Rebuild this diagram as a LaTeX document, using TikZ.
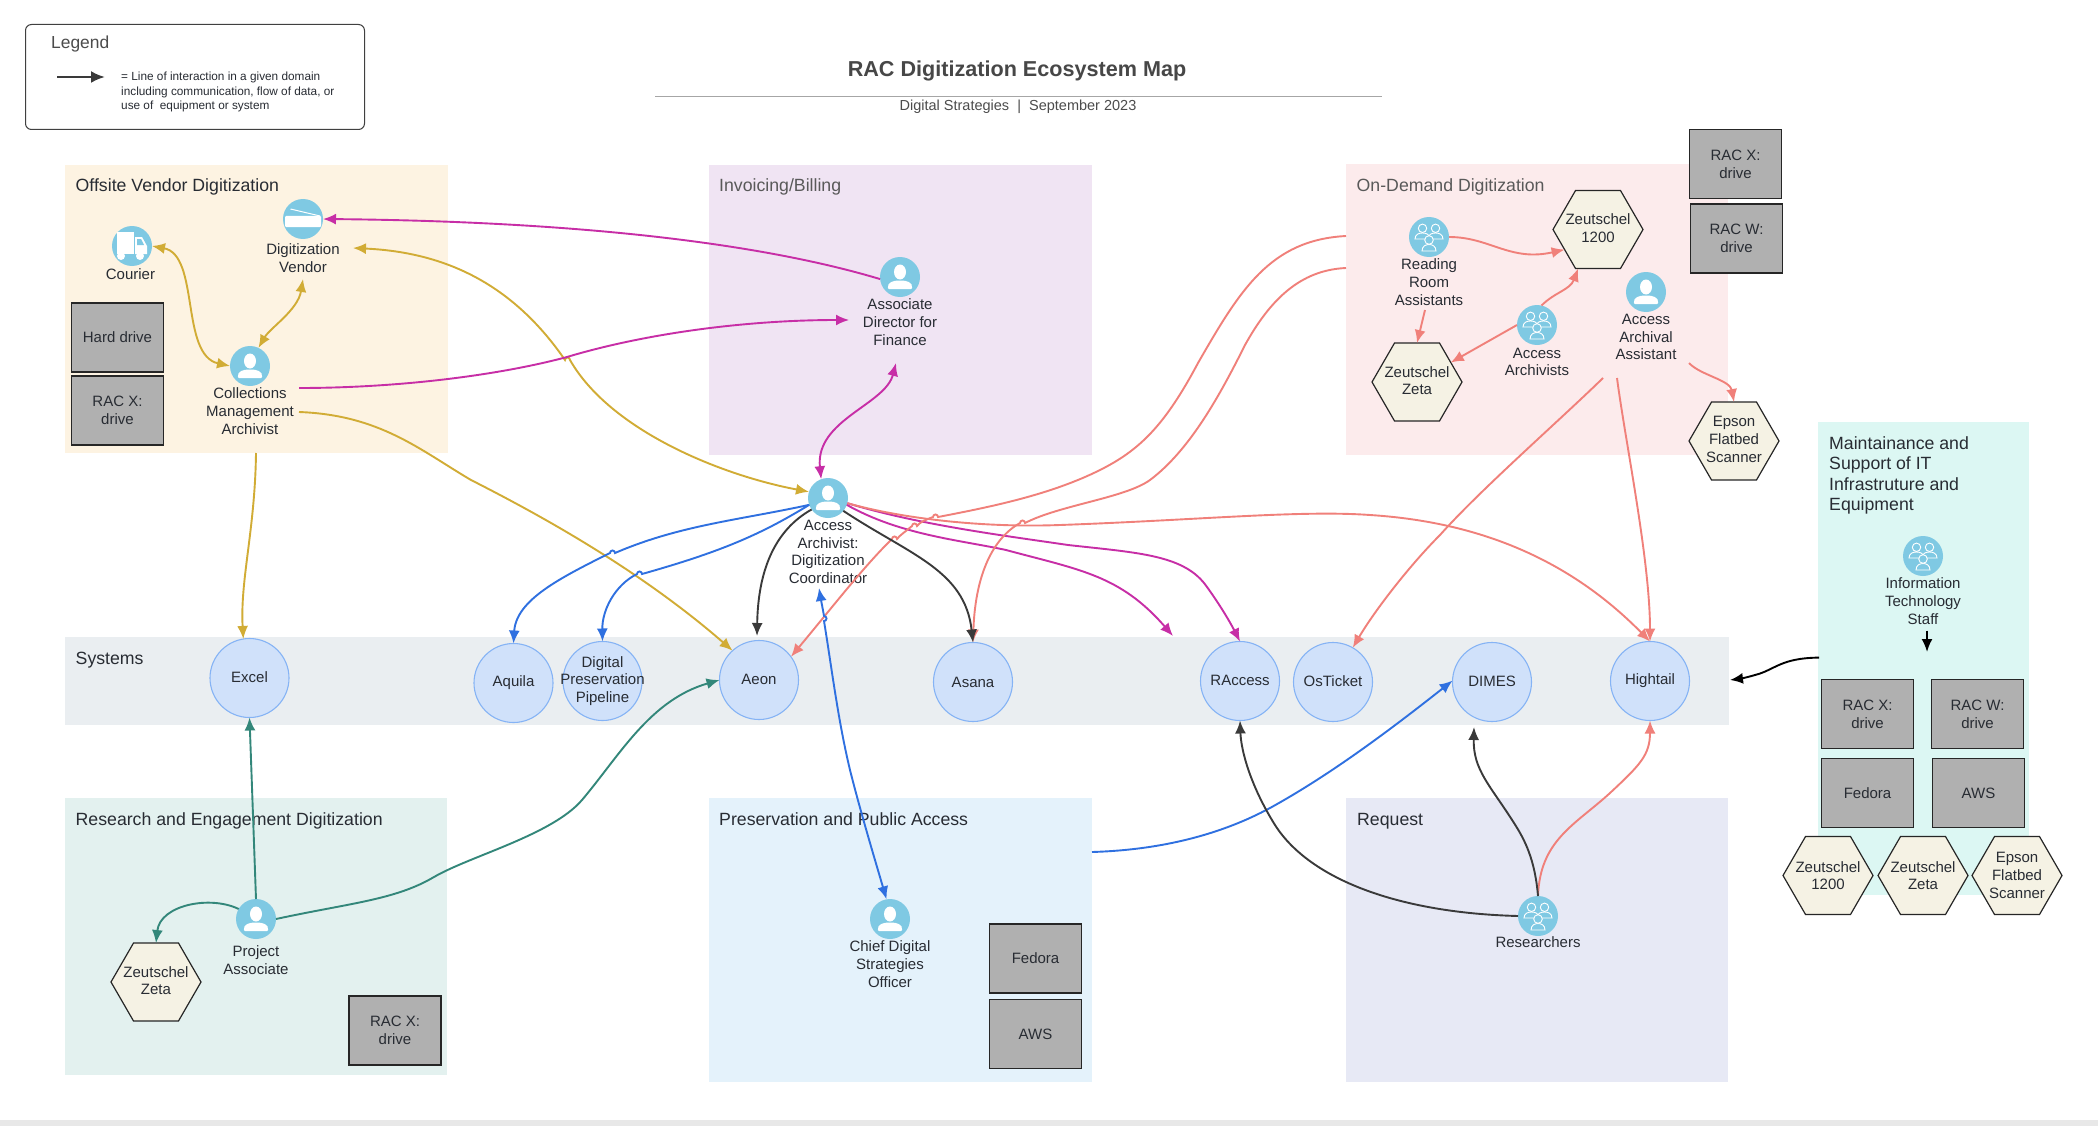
\documentclass[tikz,border=0pt]{standalone}
\usepackage{fontspec}
\setmainfont{Liberation Sans}
\usetikzlibrary{arrows.meta,shapes.geometric}
\definecolor{icon}{HTML}{7FC9E3}
\definecolor{cgold}{HTML}{D1AC35}
\definecolor{cmag}{HTML}{C72EA6}
\definecolor{csal}{HTML}{F0807A}
\definecolor{cblue}{HTML}{2F70E0}
\definecolor{cdark}{HTML}{3A3A3A}
\definecolor{cgreen}{HTML}{33877A}
\definecolor{inkc}{HTML}{282C33}
\tikzset{
  >={Latex[length=13pt,width=11pt]},
  lab/.style={inner sep=0pt,align=center,text=inkc,font=\fontsize{15}{17.7}\selectfont},
  uplab/.style={lab,yshift=1.5pt},
  grpblock/.style={inner sep=0pt,anchor=west,align=left,text=inkc,font=\fontsize{17.7}{20.6}\selectfont},
  grptitle/.style={grpblock,text height=13pt,text depth=4pt},
  grp/.style={draw=none,anchor=north west,inner sep=0pt,outer sep=0pt},
  iconc/.style={circle,fill=icon,minimum size=40pt,inner sep=0pt,outer sep=0pt},
  syst/.style={circle,fill=sysfill,draw=sysline,line width=1.1pt,minimum size=79pt,inner sep=0pt,outer sep=0pt,text=inkc,align=center,font=\fontsize{15}{17.7}\selectfont},
  drive/.style={rectangle,fill=black!31,draw=black!85,line width=1.2pt,minimum width=92pt,minimum height=69pt,inner sep=0pt,outer sep=0pt,text=inkc,align=center,font=\fontsize{15}{17.7}\selectfont},
  hexa/.style={regular polygon,regular polygon sides=6,minimum size=90pt,inner sep=0pt,outer sep=0pt,fill=hexfill,draw=black!85,line width=1.2pt},
  conn/.style={line width=1.9pt,->},
  both/.style={line width=1.9pt,<->},
  personglyph/.pic={
    \fill[white] (0,-5) ellipse [x radius=6,y radius=7.5];
    \fill[white,rounded corners=1pt] (-12,12) .. controls (-13,5) and (-6,3.5) .. (0,3.5) .. controls (6,3.5) and (13,5) .. (12,12) -- cycle;
  },
  teamglyph/.pic={
    \begin{scope}[draw=white,line width=0.9pt]
      \draw (-6.5,-8.7) circle [radius=4.2];
      \draw (6.5,-8.7) circle [radius=4.2];
      \draw (-14,2) .. controls (-14,-3) and (-9.5,-4) .. (-6.5,-4) .. controls (-3.5,-4) and (1,-3) .. (1,2) -- cycle;
      \draw (-1,2) .. controls (-1,-3) and (3.5,-4) .. (6.5,-4) .. controls (9.5,-4) and (14,-3) .. (14,2) -- cycle;
      \filldraw[fill=icon] (-7,14) .. controls (-7,9) and (-3,7.5) .. (0,7.5) .. controls (3,7.5) and (7,9) .. (7,14) -- cycle;
      \filldraw[fill=icon] (0,3) circle [radius=4.3];
    \end{scope}
  },
  truckglyph/.pic={
    \fill[white] (-15,-14) rectangle (2,8);
    \fill[white] (3,-9) -- (10,-9) -- (15,0) -- (15,8) -- (3,8) -- cycle;
    \fill[icon] (5,-7) -- (9,-7) -- (12,-1) -- (5,-1) -- cycle;
    \fill[white] (-11,10) circle [radius=4];
    \fill[white] (8,10) circle [radius=4];
  },
  scannerglyph/.pic={
    \fill[white,rounded corners=1pt] (-18,-3) -- (18,-3) -- (18,8) -- (-18,8) -- cycle;
    \draw[white,line width=1pt] (-12.5,-10) -- (17,-3);
  }
}
\definecolor{sysfill}{HTML}{D0E1FA}
\definecolor{sysline}{HTML}{85B3F5}
\definecolor{hexfill}{HTML}{F5F2E4}
\newcommand\personnode[3]{\node[iconc] (#1) at (#2,#3) {}; \pic at (#1) {personglyph};}
\newcommand\teamnode[3]{\node[iconc] (#1) at (#2,#3) {}; \pic at (#1) {teamglyph};}
\begin{document}
\begin{tikzpicture}[x=1pt,y=-1pt]
\useasboundingbox (0,0) rectangle (2098,1126);
\fill[white] (0,0) rectangle (2098,1126);
\fill[black!9] (0,1120) rectangle (2098,1126);

% groups
\node[grp,fill={rgb,255:red,253;green,243;blue,226},minimum width=383pt,minimum height=288pt] (gOff) at (65,165) {};
\node[grp,fill={rgb,255:red,240;green,228;blue,243},minimum width=383pt,minimum height=290pt] (gInv) at (709,165) {};
\node[grp,fill={rgb,255:red,252;green,235;blue,236},minimum width=382pt,minimum height=291pt] (gDem) at (1346,164) {};
\node[grp,fill={rgb,255:red,234;green,238;blue,241},minimum width=1664pt,minimum height=88pt] (gSys) at (65,637) {};
\node[grp,fill={rgb,255:red,227;green,241;blue,239},minimum width=382pt,minimum height=277pt] (gRes) at (65,798) {};
\node[grp,fill={rgb,255:red,228;green,242;blue,251},minimum width=383pt,minimum height=284pt] (gPre) at (709,798) {};
\node[grp,fill={rgb,255:red,231;green,233;blue,245},minimum width=382pt,minimum height=284pt] (gReq) at (1346,798) {};
\node[grp,fill={rgb,255:red,220;green,247;blue,243},minimum width=211pt,minimum height=473pt] (gMnt) at (1818,422) {};

\node[grptitle] (tOff) at (75.5,187) {Offsite Vendor Digitization};
\node[grptitle,text=black!65] (tInv) at (719,187) {Invoicing/Billing};
\node[grptitle,text=black!65] (tDem) at (1356.5,187) {On-Demand Digitization};
\node[grptitle] (tSys) at (75.5,660) {Systems};
\node[grptitle] (tRes) at (75.5,820.5) {Research and Engagement Digitization};
\node[grptitle] (tPre) at (719,820.5) {Preservation and Public Access};
\node[grptitle] (tReq) at (1357,820.5) {Request};
\node[grpblock] (tMnt) at (1829,475.5) {Maintainance and\\Support of IT\\Infrastruture and\\Equipment};

% legend and title
\node[draw=black!75,line width=1pt,rounded corners=6pt,minimum width=339pt,minimum height=105pt,anchor=north west,inner sep=0pt] (legendbox) at (25,24) {};
\node[lab,anchor=west,font=\fontsize{17.4}{20}\selectfont,text=black!70] (legendtitle) at (51,44.5) {Legend};
\coordinate (legA) at (57,77);
\coordinate (legB) at (105,77);
\node[lab,anchor=west,align=left,font=\fontsize{11.8}{14.3}\selectfont] (legendtext) at (121,92) {= Line of interaction in a given domain\\including communication, flow of data, or\\use of\ \ equipment or system};
\node[inner sep=0pt,text=black!72,font=\bfseries\fontsize{21.6}{24}\selectfont] (maintitle) at (1017,71) {RAC Digitization Ecosystem Map};
\coordinate (ruleA) at (655,97);
\coordinate (ruleB) at (1382,97);
\node[inner sep=0pt,text=black!70,font=\fontsize{14.5}{17}\selectfont] (subtitle) at (1018,107) {Digital Strategies\ \ |\ \ September 2023};
\draw[black!35,line width=1pt] (ruleA) -- (ruleB);
\draw[cdark,line width=2.6pt,-{Latex[length=14pt,width=12pt]}] (legA) -- (legB);

% people
\node[iconc] (pCourier) at (132,246) {}; \pic at (pCourier) {truckglyph};
\node[iconc] (pVendor) at (303,219) {}; \pic at (pVendor) {scannerglyph};
\personnode{pColl}{250}{366}
\personnode{pAssoc}{900}{277}
\personnode{pAA}{828}{498}
\teamnode{pRead}{1429}{237}
\teamnode{pArchs}{1537}{325}
\personnode{pArch}{1646}{292}
\teamnode{pIT}{1923}{556}
\personnode{pProj}{256}{919}
\personnode{pCDSO}{890}{919}
\teamnode{pRes}{1538}{916}

\node[lab] (lCourier) at (130.5,274) {Courier};
\node[lab] (lVendor) at (303,258) {Digitization\\Vendor};
\node[lab] (lColl) at (250,411) {Collections\\Management\\Archivist};
\node[lab] (lAssoc) at (900,322) {Associate\\Director for\\Finance};
\node[lab] (lAA) at (828,552) {Access\\Archivist:\\Digitization\\Coordinator};
\node[lab] (lRead) at (1429,282) {Reading\\Room\\Assistants};
\node[lab] (lArchs) at (1537,362) {Access\\Archivists};
\node[lab] (lArch) at (1646,337) {Access\\Archival\\Assistant};
\node[lab] (lIT) at (1923,601) {Information\\Technology\\Staff};
\node[lab] (lProj) at (256,960) {Project\\Associate};
\node[lab] (lCDSO) at (890,964) {Chief Digital\\Strategies\\Officer};
\node[lab] (lRes) at (1538,942) {Researchers};

% systems
\node[syst] (sExcel) at (249.5,678) {\raisebox{2pt}{Excel}};
\node[syst] (sAquila) at (513.5,683) {Aquila};
\node[syst,label={[lab]center:Digital\\Preservation\\Pipeline}] (sDPP) at (602.5,681) {};
\node[syst] (sAeon) at (759,680) {\raisebox{2pt}{Aeon}};
\node[syst] (sAsana) at (973,682) {Asana};
\node[syst] (sRAccess) at (1240,681) {\raisebox{2pt}{RAccess}};
\node[syst] (sOsTicket) at (1333,682) {\raisebox{1pt}{OsTicket}};
\node[syst] (sDIMES) at (1492,682) {\raisebox{1pt}{DIMES}};
\node[syst] (sHightail) at (1650,681) {\raisebox{2pt}{Hightail}};

% drives
\node[drive] (dHard) at (117.5,337.5) {Hard drive};
\node[drive] (dOffX) at (117.5,410.5) {RAC X:\\drive};
\node[drive] (dDemX) at (1735.5,164) {RAC X:\\drive};
\node[drive] (dDemW) at (1736.5,238.5) {RAC W:\\drive};
\node[drive] (dITX) at (1867.5,714) {RAC X:\\drive};
\node[drive] (dITW) at (1977.5,714) {RAC W:\\drive};
\node[drive] (dITF) at (1867.5,793) {Fedora};
\node[drive] (dITA) at (1978.5,793) {AWS};
\node[drive] (dResX) at (395,1030.5) {RAC X:\\drive};
\node[drive] (dPreF) at (1035.5,958.5) {Fedora};
\node[drive] (dPreA) at (1035.5,1034) {AWS};

% hexagons
\node[hexa,label={[uplab]center:Zeutschel\\1200}] (hZ1) at (1598,229.5) {};
\node[hexa,label={[uplab]center:Zeutschel\\Zeta}] (hZeta1) at (1417,382) {};
\node[hexa,label={[uplab]center:Epson\\Flatbed\\Scanner}] (hEp1) at (1734,441) {};
\node[hexa,label={[lab]center:Zeutschel\\1200}] (hZ2) at (1828,875.5) {};
\node[hexa,label={[lab]center:Zeutschel\\Zeta}] (hZeta2) at (1923,875.5) {};
\node[hexa,label={[lab]center:Epson\\Flatbed\\Scanner}] (hEp2) at (2017,875.5) {};
\node[hexa,label={[uplab]center:Zeutschel\\Zeta}] (hZeta3) at (156,982) {};

% free ends
\coordinate (gVendorIn) at (303,279);
\coordinate (gVendorSide) at (353,248);
\coordinate (gCollOut) at (299,412);
\coordinate (gOffOut) at (256,453);
\coordinate (mCollOut) at (299,388);
\coordinate (mAssocIn) at (849,320);
\coordinate (mAssocLow) at (896,363);
\coordinate (mEnd) at (1173,636);
\coordinate (sDemA) at (1346,236);
\coordinate (sDemB) at (1346,268);
\coordinate (sArchA) at (1603,378);
\coordinate (sArchB) at (1617,378);
\coordinate (sReadOut) at (1425,310);
\coordinate (sArchC) at (1689,363);
\coordinate (bAAlow) at (819,588);
\coordinate (bPreOut) at (1092,852);
\coordinate (dAeonIn) at (757,636);
\coordinate (dDimesIn) at (1474,727);
\coordinate (kITA) at (1927,630.5);
\coordinate (kITB) at (1927,652);
\coordinate (kMntOut) at (1819,657.6);
\coordinate (kSysIn) at (1730,680);

% gold
\draw[both,cgold] (pCourier.east) .. controls (200,255) and (180,355) .. (pColl.west);
\draw[both,cgold] (gVendorIn) .. controls (298,310) and (270,328) .. (pColl.65);
\draw[both,cgold] (gVendorSide) .. controls (440,252) and (510,280) .. (565,360) arc[start angle=180,end angle=360,radius=2.5] .. controls (610,430) and (720,475) .. (pAA.162);
\draw[conn,cgold] (gCollOut) .. controls (380,415) and (420,450) .. (471,480) .. controls (540,515) and (640,570) .. (sAeon.132);
\draw[conn,cgold] (gOffOut) .. controls (255,530) and (240,580) .. (sExcel.99);

% magenta
\draw[conn,cmag] (pAssoc.186) .. controls (800,255) and (640,222) .. (pVendor.east);
\draw[conn,cmag] (mCollOut) .. controls (400,388) and (500,375) .. (567,357) .. controls (640,335) and (740,320) .. (mAssocIn);
\draw[both,cmag] (mAssocLow) .. controls (885,405) and (815,420) .. (pAA.110);
\draw[conn,cmag] (pAA.-15) .. controls (920,525) and (1000,535) .. (1068,545) .. controls (1140,553) and (1185,555) .. (1207,587) .. controls (1220,605) and (1230,622) .. (sRAccess.north);
\draw[conn,cmag] (pAA.-20) .. controls (900,535) and (960,540) .. (1006,550) .. controls (1080,570) and (1120,575) .. (mEnd);

% salmon
\draw[conn,csal] (sDemA) .. controls (1270,240) and (1240,290) .. (1198,363) .. controls (1165,425) and (1140,450) .. (1100,470) .. controls (1050,495) and (990,507) .. (938,517) arc[start angle=0,end angle=-180,radius=2.5] .. controls (925,520) and (920,522) .. (917,526) arc[start angle=0,end angle=-180,radius=2.5] .. controls (905,532) and (900,535) .. (897,539) arc[start angle=0,end angle=-180,radius=2.5] .. controls (865,565) and (830,610) .. (sAeon.36);
\draw[conn,csal] (sDemB) .. controls (1300,270) and (1270,300) .. (1245,345) .. controls (1220,395) and (1190,450) .. (1150,480) .. controls (1125,498) and (1060,505) .. (1025,523) arc[start angle=0,end angle=-180,radius=2.5] .. controls (990,540) and (975,580) .. (sAsana.north);
\draw[conn,csal] (pAA.-15) .. controls (900,518) and (980,528) .. (1060,525) .. controls (1200,520) and (1300,510) .. (1370,515) .. controls (1480,522) and (1570,560) .. (sHightail.north);
\draw[conn,csal] (sArchA) .. controls (1560,420) and (1480,490) .. (1440,535) .. controls (1410,565) and (1375,610) .. (sOsTicket.60);
\draw[conn,csal] (sArchB) .. controls (1625,440) and (1650,560) .. (sHightail.north);
\draw[conn,csal] (pRes.north) .. controls (1540,840) and (1575,825) .. (1610,793) .. controls (1640,765) and (1650,755) .. (sHightail.south);
\draw[conn,csal] (pRead.east) .. controls (1490,237) and (1510,262) .. (hZ1.211);
\draw[conn,csal] (sReadOut) -- (hZeta1.north);
\draw[conn,csal] (pArchs.west) -- (hZeta1.30);
\draw[conn,csal] (pArchs.77) .. controls (1555,292) and (1570,290) .. (hZ1.243);
\draw[conn,csal] (sArchC) .. controls (1700,375) and (1730,380) .. (hEp1.north);

% blue
\draw[conn,cblue] (pAA.200) .. controls (740,520) and (680,525) .. (615,553) arc[start angle=0,end angle=-180,radius=2.5] .. controls (560,578) and (516,600) .. (sAquila.north);
\draw[conn,cblue] (pAA.200) .. controls (760,535) and (720,552) .. (642,574) arc[start angle=0,end angle=-180,radius=2.5] .. controls (615,585) and (602,610) .. (sDPP.north);
\draw[both,cblue] (bAAlow) .. controls (821,600) and (823,610) .. (824,616) arc[start angle=270,end angle=450,radius=2.5] .. controls (832,670) and (838,720) .. (850,770) .. controls (860,810) and (875,860) .. (pCDSO.100);
\draw[conn,cblue] (bPreOut) .. controls (1160,850) and (1220,835) .. (1270,808) .. controls (1330,775) and (1390,730) .. (sDIMES.178);

% dark
\draw[conn,cdark] (pAA.215) .. controls (775,530) and (758,570) .. (dAeonIn);
\draw[conn,cdark] (pAA.-40) .. controls (910,555) and (965,570) .. (sAsana.north);
\draw[conn,cdark] (pRes.west) .. controls (1400,913) and (1310,880) .. (1275,825) .. controls (1250,785) and (1241,750) .. (sRAccess.south);
\draw[conn,cdark] (pRes.north) .. controls (1535,860) and (1525,840) .. (1514,823) .. controls (1490,785) and (1473,770) .. (dDimesIn);

% green
\draw[conn,cgreen] (pProj.north) -- (sExcel.south);
\draw[conn,cgreen] (pProj.150) .. controls (210,895) and (160,905) .. (hZeta3.north);
\draw[conn,cgreen] (pProj.east) .. controls (350,903) and (395,900) .. (434,877) .. controls (470,856) and (552,835) .. (582,800) .. controls (620,755) and (650,700) .. (sAeon.west);

% black
\draw[conn,black] (kITA) -- (kITB);
\draw[conn,black] (kMntOut) .. controls (1780,658) and (1775,670) .. (1755,675) .. controls (1745,678) and (1738,679) .. (kSysIn);
\end{tikzpicture}
\end{document}
